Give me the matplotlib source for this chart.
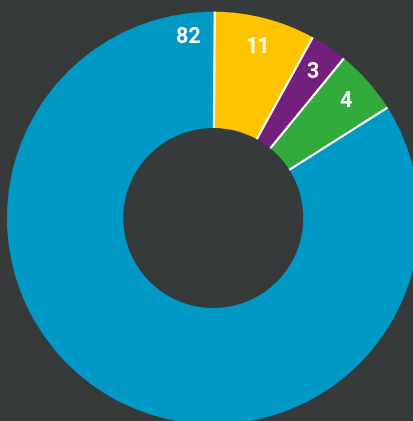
import numpy as np
import matplotlib.pyplot as plt

# slice order, clockwise from 12 o'clock
shares = [7.9, 2.9, 5.1, 84.1]
labels = ['11', '3', '4', '82']
colors = ['#ffc300', '#73207c', '#33aa3c', '#0099c6']
bg = '#373a3b'

W, H, dpi = 414, 421, 100
cx, cy, r_out, r_in = 213.3, 218.0, 206.3, 90.0

fig = plt.figure(figsize=(W / dpi, H / dpi), dpi=dpi, facecolor=bg)
ax = fig.add_axes([0, 0, 1, 1])
ax.set_facecolor(bg)

wedges, _ = ax.pie(shares, colors=colors, startangle=89.6, counterclock=False,
                   radius=1.0, wedgeprops=dict(width=1 - r_in / r_out, linewidth=0))

# white separators between slices (radial only)
rin = r_in / r_out
for w in wedges:
    a = np.deg2rad(w.theta1)
    ax.plot([rin * np.cos(a), 1.0 * np.cos(a)], [rin * np.sin(a), 1.0 * np.sin(a)],
            color='white', lw=1.6, solid_capstyle='butt', zorder=3)

# labels
for w, lab in zip(wedges, labels):
    if lab == '82':
        # big slice: label sits just left of 12 o'clock
        ang = w.theta1 + 8.2
        rr = 0.885
    else:
        ang = (w.theta1 + w.theta2) / 2
        rr = 0.855
    a = np.deg2rad(ang)
    ax.text(rr * np.cos(a), rr * np.sin(a), lab, color='white', fontsize=15.5,
            fontweight='bold', ha='center', va='center',
            family=['Roboto', 'DejaVu Sans'], zorder=4)

ax.set_aspect('auto')
ax.set_xlim(-cx / r_out, (W - cx) / r_out)
ax.set_ylim(-(H - cy) / r_out, cy / r_out)
ax.axis('off')

fig.savefig('out.png', dpi=dpi, facecolor=bg)
